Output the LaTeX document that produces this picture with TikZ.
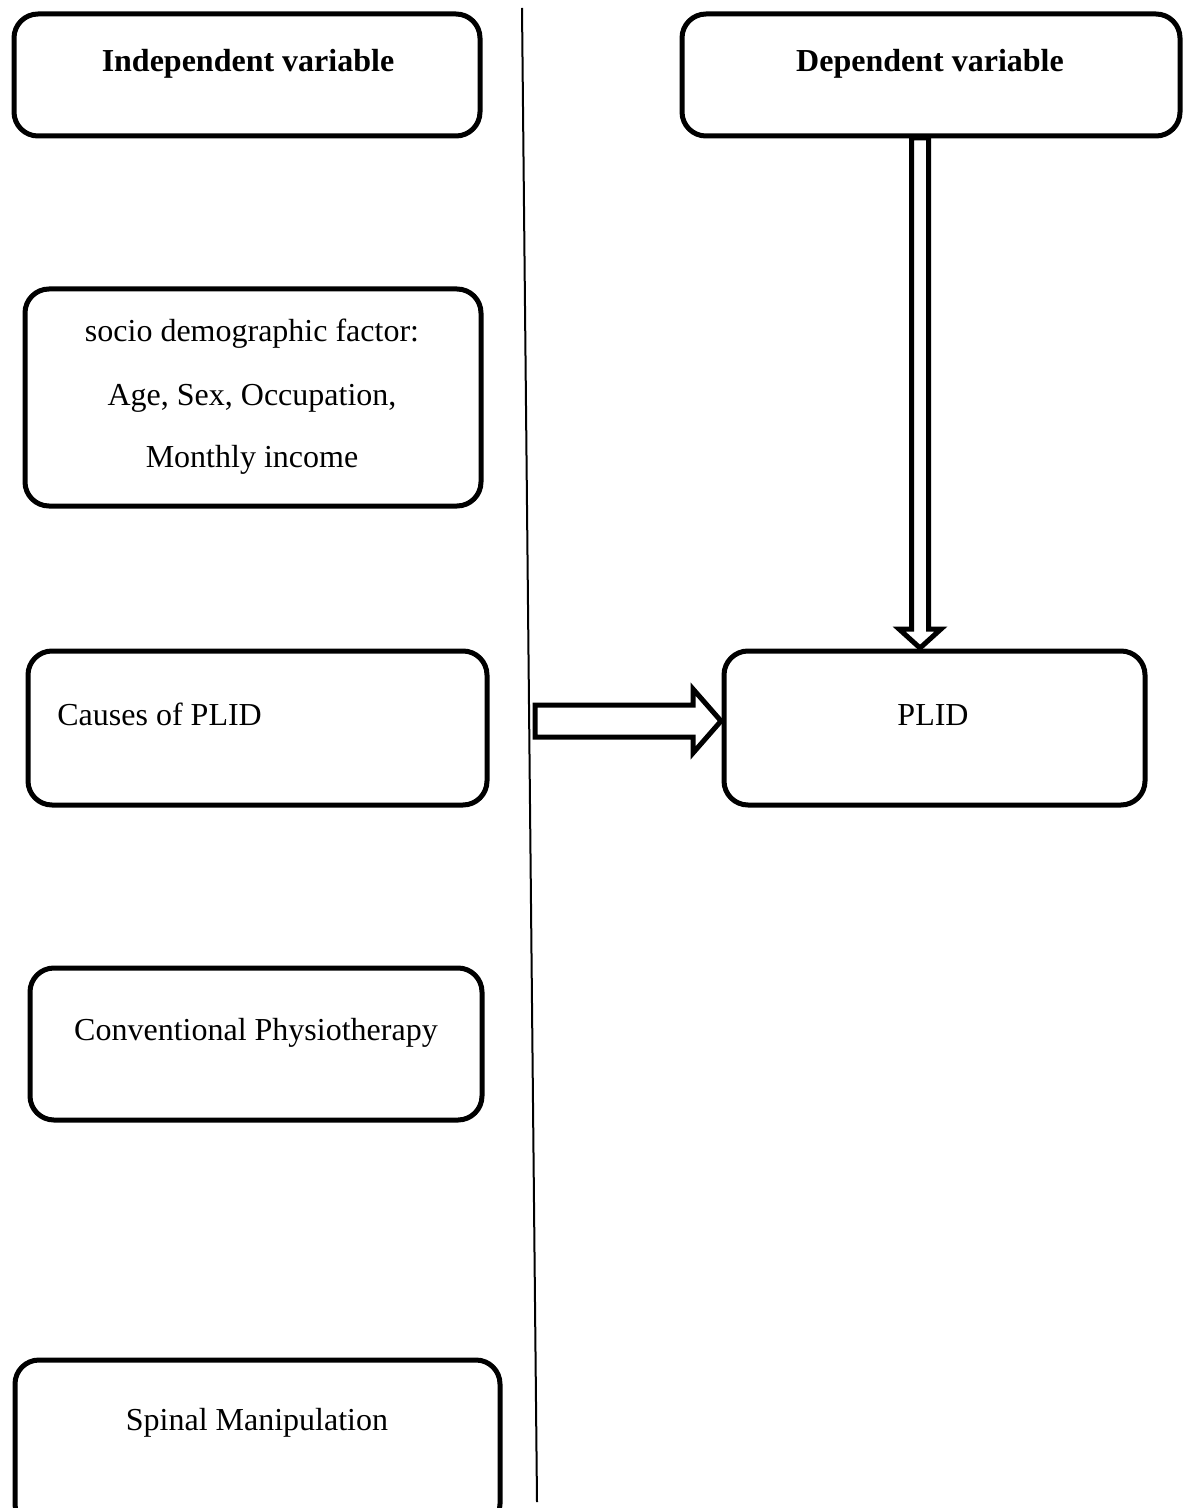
\documentclass[tikz,border=0pt]{standalone}
\usepackage{fontspec}
\setmainfont{Liberation Serif}
\usetikzlibrary{calc}

\begin{document}
\begin{tikzpicture}[x=0.5pt, y=-0.5pt,
    box/.style={draw, line width=2.5pt, rounded corners=12pt, inner sep=0pt},
    txt/.style={font=\fontsize{16}{19}\selectfont, inner sep=0pt, anchor=base},
    hollow/.style={draw, fill=white, line width=2.5pt, line join=miter}]
      \clip (0,0) rectangle (1192,1508);

      % boxes
      \node[box, minimum width=233pt, minimum height=61pt] (ind) at (247,75) {};
      \node[box, minimum width=249pt, minimum height=61pt] (dep) at (931,75) {};
      \node[box, minimum width=228pt, minimum height=108.5pt] (socio) at (253,397.5) {};
      \node[box, minimum width=229.5pt, minimum height=77pt] (causes) at (257.5,728) {};
      \node[box, minimum width=210.5pt, minimum height=77pt] (plid) at (934.5,728) {};
      \node[box, minimum width=226pt, minimum height=76pt] (conv) at (256,1044) {};
      \node[box, minimum width=242.5pt, minimum height=84pt] (spinal) at (257.5,1444) {};

      % texts
      \node[txt] (indt) at (248,72) {\textbf{Independent variable}};
      \node[txt] (dept) at (930,72) {\textbf{Dependent variable}};
      \node[txt] (s1) at (252,342) {socio demographic factor:};
      \node[txt] (s2) at (252,405) {Age, Sex, Occupation,};
      \node[txt] (s3) at (252,467) {Monthly income};
      \node[txt, anchor=base west] (causest) at (57,725) {Causes of PLID};
      \node[txt] (plidt) at (933,725) {PLID};
      \node[txt] (convt) at (256,1040) {Conventional Physiotherapy};
      \node[txt] (spinalt) at (257,1430) {Spinal Manipulation};

      % divider
      \coordinate (ltop) at (522,8);
      \coordinate (lbot) at (537,1502);
      \draw[line width=1pt] (ltop) -- (lbot);

      % block arrows
      \coordinate (dtop) at (920,138);
      \coordinate (dtip) at (920,648);
      \draw[hollow] ($(dtop)+(-8.5,0)$) -- ($(dtip)+(-8.5,-19)$) -- ($(dtip)+(-21,-19)$)
      -- (dtip) -- ($(dtip)+(21,-19)$) -- ($(dtip)+(8.5,-19)$) -- ($(dtop)+(8.5,0)$) -- cycle;

      \coordinate (rtip) at (721,721);
      \draw[hollow] ($(rtip)+(-186,-16)$) -- ($(rtip)+(-28,-16)$) -- ($(rtip)+(-28,-32)$)
      -- (rtip) -- ($(rtip)+(-28,32)$) -- ($(rtip)+(-28,16)$) -- ($(rtip)+(-186,16)$) -- cycle;
    \end{tikzpicture}
\end{document}
